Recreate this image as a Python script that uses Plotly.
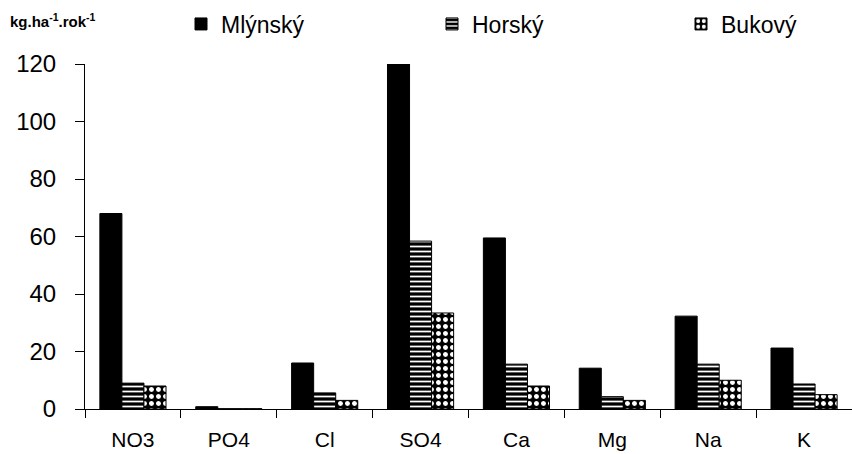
import plotly.graph_objects as go

categories = ["NO3", "PO4", "Cl", "SO4", "Ca", "Mg", "Na", "K"]
mlynsky = [68, 0.8, 16, 120, 59.5, 14.2, 32.3, 21.2]
horsky = [9, 0.1, 5.6, 58.4, 15.6, 4.3, 15.6, 8.7]
bukovy = [8, 0.1, 3, 33.4, 8, 3, 10, 5]
y_ticks = [0, 20, 40, 60, 80, 100, 120]

L, R, T, B = 85, 0, 64, 45
W, H = 852, 454
pw, ph = W - L - R, H - T - B


def px_x(x):
    return (x - L) / pw


def px_y(y):
    return (H - B - y) / ph


fig = go.Figure()
fig.add_trace(go.Bar(name="Mlýnský", x=categories, y=mlynsky, legend="legend",
                     marker=dict(color="black", line=dict(color="black", width=1))))
fig.add_trace(go.Bar(name="Horský", x=categories, y=horsky, legend="legend2",
                     marker=dict(color="black", line=dict(color="black", width=1),
                                 pattern=dict(shape="-", fgcolor="white", bgcolor="black",
                                              size=5, solidity=0.35, fillmode="replace"))))
fig.add_trace(go.Bar(name="Bukový", x=categories, y=bukovy, legend="legend3",
                     marker=dict(color="black", line=dict(color="black", width=1),
                                 pattern=dict(shape=".", fgcolor="white", bgcolor="black",
                                              size=7, solidity=0.4, fillmode="replace"))))

leg_common = dict(orientation="h", yanchor="middle", y=px_y(24), xanchor="left",
                  font=dict(size=23), bgcolor="rgba(0,0,0,0)")

fig.update_layout(
    width=W, height=H,
    margin=dict(l=L, r=R, t=T, b=B, autoexpand=False),
    paper_bgcolor="white", plot_bgcolor="white",
    font=dict(family="Arial, Liberation Sans, sans-serif", color="black", size=20),
    barmode="group", bargap=0.31, bargroupgap=0,
    showlegend=True,
    legend=dict(x=px_x(181), **leg_common),
    legend2=dict(x=px_x(432), **leg_common),
    legend3=dict(x=px_x(681), **leg_common),
    xaxis=dict(showline=True, linecolor="black", linewidth=1, ticks="outside",
               tickson="boundaries", ticklen=8, tickcolor="black",
               tickfont=dict(size=21), ticklabelstandoff=12, showgrid=False,
               automargin=False),
    yaxis=dict(range=[0, 120], tickvals=y_ticks, showline=True, linecolor="black",
               linewidth=1, ticks="outside", ticklen=9, tickcolor="black",
               tickfont=dict(size=24), ticklabelstandoff=14, showgrid=False,
               zeroline=False, automargin=False),
    annotations=[dict(text="<b>kg.ha<sup>-1</sup>.rok<sup>-1</sup></b>",
                      x=px_x(8), y=px_y(21), xref="paper", yref="paper",
                      showarrow=False, font=dict(size=15),
                      xanchor="left", yanchor="middle")],
)
fig.write_html("out.html", config={"displayModeBar": False},
               post_script="document.body.style.margin='0px';document.body.style.padding='0px';")
